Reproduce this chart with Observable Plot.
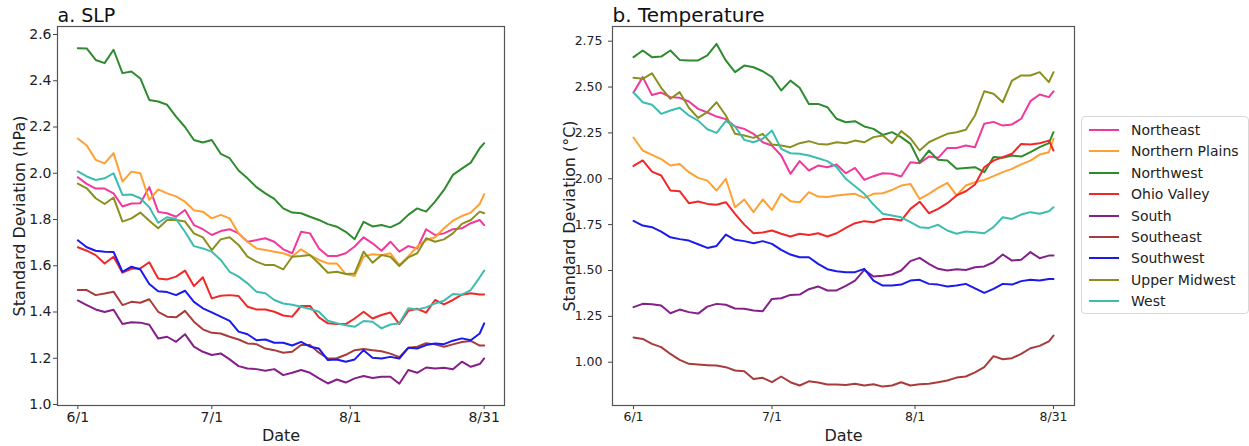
<!DOCTYPE html>
<html><head><meta charset="utf-8">
<script src="https://cdn.jsdelivr.net/npm/d3@7"></script>
<script src="https://cdn.jsdelivr.net/npm/@observablehq/plot@0.6"></script>
<style>
body{margin:0;background:#fff;font-family:"DejaVu Sans",sans-serif;}
#wrap{position:relative;width:1249px;height:446px;overflow:hidden;background:#fff;}
.panel{position:absolute;top:0;}
#legend{position:absolute;left:1081px;top:116px;width:166px;height:196px;border:1px solid #d8d8d8;border-radius:4px;background:#fff;}
.lrow{position:absolute;left:0;height:20px;width:166px;}
.sw{position:absolute;left:7px;top:9px;width:30px;height:2px;}
.lt{position:absolute;left:49px;top:1px;font-size:14px;line-height:18px;color:#222;white-space:nowrap;}
</style></head><body><div id="wrap"><div id="left" class="panel" style="left:0"></div><div id="right" class="panel" style="left:540px"></div><div id="legend"></div></div>
<script>
const regions = ["Northeast","Northern Plains","Northwest","Ohio Valley","South","Southeast","Southwest","Upper Midwest","West"];
const colors = ["#f0399b","#ffa033","#2e8b2e","#f02828","#85208a","#a83c3c","#1a1aee","#8a9020","#3dbdb0"];
// days after June 1
const days = [0,2,4,6,8,10,12,14,16,18,20,22,24,26,28,30,32,34,36,38,40,42,44,46,48,50,52,54,56,58,60,62,64,66,68,70,72,74,76,78,80,82,84,86,88,90,91];
const tickDays = [0,30,61,91];
const tickLabels = ["6/1","7/1","8/1","8/31"];

// a. SLP standard deviation (hPa)
const slpNortheast = [1.983,1.954,1.934,1.934,1.913,1.856,1.869,1.87,1.94,1.833,1.827,1.812,1.841,1.776,1.758,1.733,1.75,1.758,1.74,1.704,1.711,1.719,1.704,1.671,1.654,1.747,1.74,1.675,1.642,1.642,1.654,1.683,1.723,1.697,1.665,1.704,1.661,1.685,1.675,1.758,1.733,1.74,1.758,1.762,1.784,1.798,1.776];
const slpNorthernPlains = [2.15,2.12,2.058,2.043,2.087,1.964,2.007,2.0,1.885,1.93,1.913,1.90,1.877,1.84,1.834,1.805,1.82,1.805,1.74,1.704,1.675,1.668,1.661,1.654,1.64,1.671,1.646,1.625,1.61,1.61,1.564,1.556,1.64,1.65,1.646,1.654,1.603,1.64,1.683,1.711,1.723,1.762,1.795,1.815,1.83,1.867,1.91];
const slpNorthwest = [2.541,2.54,2.49,2.476,2.534,2.433,2.44,2.41,2.317,2.31,2.296,2.245,2.20,2.144,2.133,2.144,2.084,2.065,2.012,1.978,1.94,1.913,1.889,1.848,1.83,1.827,1.812,1.798,1.78,1.769,1.747,1.715,1.79,1.77,1.776,1.766,1.784,1.82,1.848,1.834,1.877,1.928,1.993,2.02,2.046,2.108,2.13];
const slpOhioValley = [1.68,1.665,1.646,1.61,1.639,1.57,1.587,1.589,1.615,1.545,1.541,1.553,1.579,1.512,1.55,1.459,1.47,1.473,1.469,1.423,1.411,1.411,1.401,1.385,1.38,1.426,1.426,1.377,1.351,1.348,1.348,1.372,1.401,1.372,1.387,1.398,1.348,1.405,1.414,1.397,1.452,1.433,1.452,1.475,1.481,1.476,1.476];
const slpSouth = [1.45,1.43,1.411,1.40,1.41,1.348,1.356,1.354,1.345,1.285,1.293,1.271,1.304,1.25,1.228,1.214,1.221,1.195,1.166,1.156,1.153,1.146,1.153,1.127,1.137,1.149,1.137,1.113,1.091,1.108,1.095,1.113,1.123,1.115,1.12,1.12,1.09,1.149,1.137,1.16,1.156,1.159,1.152,1.185,1.163,1.175,1.199];
const slpSoutheast = [1.495,1.495,1.473,1.48,1.488,1.43,1.444,1.44,1.455,1.401,1.38,1.377,1.405,1.358,1.325,1.31,1.307,1.293,1.281,1.264,1.261,1.242,1.235,1.224,1.228,1.257,1.257,1.224,1.199,1.20,1.215,1.235,1.24,1.235,1.23,1.22,1.205,1.245,1.25,1.265,1.26,1.25,1.26,1.27,1.275,1.255,1.255];
const slpSouthwest = [1.71,1.68,1.665,1.661,1.66,1.574,1.596,1.584,1.521,1.49,1.486,1.473,1.492,1.444,1.416,1.398,1.38,1.362,1.315,1.304,1.278,1.281,1.267,1.267,1.255,1.271,1.25,1.242,1.192,1.195,1.185,1.195,1.235,1.202,1.199,1.206,1.199,1.245,1.242,1.257,1.264,1.261,1.276,1.286,1.278,1.307,1.351];
const slpUpperMidwest = [1.955,1.935,1.892,1.867,1.895,1.791,1.805,1.83,1.795,1.762,1.798,1.798,1.791,1.74,1.723,1.668,1.714,1.723,1.69,1.639,1.618,1.603,1.603,1.584,1.639,1.642,1.646,1.61,1.57,1.574,1.564,1.567,1.661,1.613,1.646,1.639,1.599,1.636,1.654,1.719,1.704,1.714,1.74,1.781,1.798,1.834,1.827];
const slpWest = [2.008,1.986,1.971,1.978,2.0,1.906,1.908,1.892,1.853,1.786,1.81,1.802,1.747,1.685,1.675,1.661,1.625,1.574,1.553,1.524,1.488,1.481,1.452,1.437,1.431,1.423,1.413,1.401,1.362,1.351,1.343,1.336,1.361,1.358,1.329,1.346,1.351,1.416,1.411,1.42,1.437,1.449,1.478,1.475,1.495,1.55,1.579];

// b. Temperature standard deviation (°C)
const tNortheast = [2.47,2.554,2.457,2.47,2.445,2.441,2.421,2.381,2.361,2.339,2.325,2.285,2.272,2.245,2.199,2.181,2.127,2.027,2.096,2.045,2.072,2.063,2.078,2.03,2.059,1.994,2.014,2.03,2.027,2.012,2.09,2.085,2.121,2.114,2.168,2.168,2.181,2.172,2.30,2.31,2.29,2.296,2.327,2.423,2.459,2.445,2.477];
const tNorthernPlains = [2.225,2.154,2.13,2.107,2.072,2.081,2.036,2.005,1.99,1.936,2.0,1.845,1.887,1.818,1.887,1.83,1.918,1.878,1.872,1.927,1.903,1.90,1.909,1.914,1.918,1.896,1.918,1.921,1.939,1.963,1.972,1.89,1.918,1.95,1.978,1.909,1.963,1.981,1.994,2.014,2.036,2.054,2.078,2.099,2.132,2.145,2.218];
const tNorthwest = [2.663,2.699,2.663,2.666,2.699,2.648,2.645,2.645,2.672,2.735,2.645,2.581,2.617,2.608,2.586,2.554,2.481,2.535,2.496,2.408,2.408,2.39,2.327,2.308,2.314,2.285,2.272,2.239,2.254,2.227,2.19,2.09,2.154,2.103,2.099,2.054,2.059,2.063,2.036,2.118,2.114,2.127,2.121,2.145,2.172,2.194,2.254];
const tOhioValley = [2.07,2.10,2.039,2.018,1.936,1.932,1.867,1.876,1.863,1.858,1.872,1.809,1.75,1.703,1.707,1.718,1.70,1.685,1.70,1.694,1.703,1.685,1.703,1.732,1.758,1.769,1.763,1.78,1.781,1.772,1.836,1.875,1.812,1.836,1.867,1.909,1.932,1.969,2.063,2.099,2.118,2.136,2.19,2.187,2.194,2.208,2.154];
const tSouth = [1.30,1.318,1.316,1.309,1.267,1.287,1.273,1.265,1.303,1.318,1.313,1.293,1.291,1.282,1.278,1.345,1.349,1.367,1.369,1.398,1.413,1.391,1.391,1.416,1.445,1.503,1.467,1.471,1.478,1.50,1.551,1.569,1.536,1.509,1.50,1.507,1.503,1.518,1.522,1.545,1.587,1.554,1.558,1.60,1.567,1.581,1.581];
const tSoutheast = [1.135,1.127,1.10,1.082,1.045,1.013,0.991,0.987,0.984,0.982,0.973,0.955,0.951,0.909,0.915,0.891,0.922,0.891,0.873,0.896,0.889,0.878,0.878,0.876,0.882,0.873,0.88,0.867,0.873,0.891,0.873,0.88,0.882,0.891,0.90,0.916,0.922,0.945,0.973,1.033,1.016,1.022,1.045,1.076,1.089,1.114,1.145];
const tSouthwest = [1.77,1.745,1.736,1.712,1.681,1.671,1.663,1.643,1.623,1.634,1.696,1.667,1.66,1.649,1.66,1.645,1.612,1.587,1.572,1.572,1.536,1.507,1.496,1.491,1.491,1.509,1.445,1.418,1.418,1.423,1.445,1.449,1.427,1.423,1.413,1.418,1.427,1.402,1.378,1.40,1.427,1.423,1.442,1.449,1.445,1.454,1.454];
const tUpperMidwest = [2.55,2.545,2.575,2.496,2.436,2.472,2.387,2.332,2.363,2.417,2.345,2.245,2.236,2.223,2.245,2.187,2.181,2.172,2.194,2.205,2.19,2.187,2.199,2.194,2.208,2.199,2.227,2.236,2.194,2.26,2.22,2.154,2.199,2.223,2.245,2.254,2.267,2.345,2.477,2.463,2.417,2.535,2.563,2.563,2.581,2.527,2.581];
const tWest = [2.47,2.417,2.403,2.354,2.372,2.387,2.345,2.317,2.27,2.25,2.314,2.285,2.212,2.199,2.218,2.263,2.163,2.139,2.136,2.127,2.112,2.096,2.063,2.0,1.959,1.918,1.859,1.809,1.80,1.79,1.763,1.736,1.732,1.749,1.718,1.70,1.712,1.709,1.703,1.736,1.79,1.781,1.805,1.818,1.809,1.823,1.845];

const slpSeries = [slpNortheast,slpNorthernPlains,slpNorthwest,slpOhioValley,slpSouth,slpSoutheast,slpSouthwest,slpUpperMidwest,slpWest];
const tSeries = [tNortheast,tNorthernPlains,tNorthwest,tOhioValley,tSouth,tSoutheast,tSouthwest,tUpperMidwest,tWest];

function rows(series) {
  const out = [];
  series.forEach((vals, k) => vals.forEach((v, i) => out.push({region: regions[k], day: days[i], value: v})));
  return out;
}

function panel({data, width, marginLeft, yDomain, yTicks, yFormat, title, titleSize, ylabel, ylabelDx, yTickPad, tickFont}) {
  return Plot.plot({
    width, height: 446,
    marginLeft, marginRight: 16, marginTop: 26, marginBottom: 41,
    x: {domain: [-4.55, 95.55]},
    y: {domain: yDomain},
    color: {domain: regions, range: colors},
    style: {fontFamily: "DejaVu Sans, sans-serif", color: "#222", background: "white", overflow: "visible"},
    marks: [
      Plot.axisX({ticks: tickDays, tickFormat: d => tickLabels[tickDays.indexOf(d)], tickSize: 4, tickPadding: 3, fontSize: tickFont, label: null, stroke: "#444"}),
      Plot.axisY({ticks: yTicks, tickFormat: yFormat, tickSize: 4, tickPadding: yTickPad, fontSize: tickFont, label: null, stroke: "#444"}),
      Plot.line(data, {x: "day", y: "value", z: "region", stroke: "region", strokeWidth: 2}),
      Plot.frame({stroke: "#555", strokeWidth: 1.2}),
      Plot.text([title], {frameAnchor: "top-left", textAnchor: "start", lineAnchor: "bottom", dy: -5, fontSize: titleSize, fill: "#111"}),
      Plot.text(["Date"], {frameAnchor: "bottom", textAnchor: "middle", lineAnchor: "bottom", dy: 35, fontSize: 16, fill: "#222"}),
      Plot.text([ylabel], {frameAnchor: "left", rotate: -90, textAnchor: "middle", lineAnchor: "middle", dx: ylabelDx, fontSize: 16, fill: "#222"})
    ]
  });
}

document.getElementById("left").append(panel({
  data: rows(slpSeries), width: 520, marginLeft: 57,
  yDomain: [0.9957, 2.6346], yTicks: [1.0,1.2,1.4,1.6,1.8,2.0,2.2,2.4,2.6], yFormat: d3.format(".1f"),
  title: "a. SLP", titleSize: 19, ylabel: "Standard Deviation (hPa)", ylabelDx: -38, yTickPad: 2, tickFont: 14
}));

document.getElementById("right").append(panel({
  data: rows(tSeries), width: 550, marginLeft: 72,
  yDomain: [0.764, 2.830], yTicks: [1.0,1.25,1.5,1.75,2.0,2.25,2.5,2.75], yFormat: d3.format(".2f"),
  title: "b. Temperature", titleSize: 20, ylabel: "Standard Deviation (°C)", ylabelDx: -43, yTickPad: 6, tickFont: 12.5
}));

const legend = document.getElementById("legend");
regions.forEach((r, i) => {
  const row = document.createElement("div");
  row.className = "lrow";
  row.style.top = (3 + 21.4 * i) + "px";
  const sw = document.createElement("div");
  sw.className = "sw";
  sw.style.background = colors[i];
  const t = document.createElement("div");
  t.className = "lt";
  t.textContent = r;
  row.append(sw, t);
  legend.append(row);
});
</script></body></html>
